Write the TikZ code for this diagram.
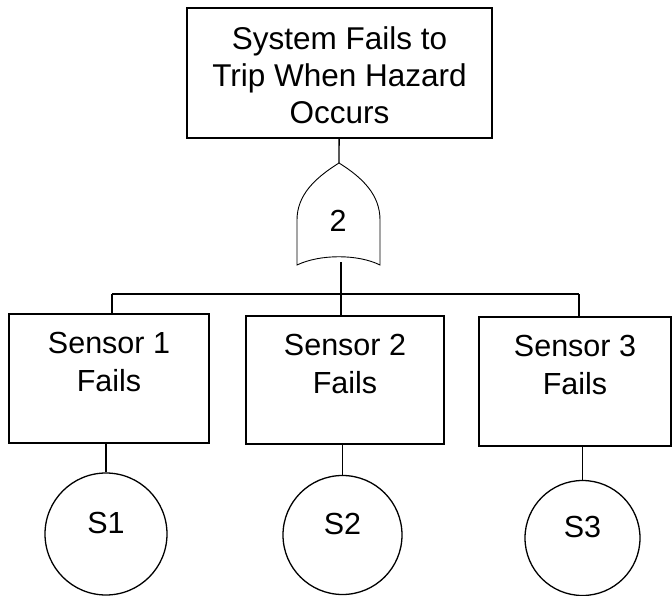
\documentclass[tikz,border=0pt]{standalone}
\usepackage{fontspec}
\setmainfont{Liberation Sans}
\usetikzlibrary{positioning}
\tikzset{
event/.style={
draw,
line width=1.3pt,
inner sep=0pt
},
eventtext/.style={
anchor=north,
yshift=-19pt,
inner sep=0pt,
align=center,
font=\fontsize{30.5}{38}\selectfont
},
basic/.style={
circle,
draw,
line width=1.3pt,
inner sep=0pt,
text depth=22pt,
font=\fontsize{30.5}{38}\selectfont
},
link/.style={
line width=1.3pt
}
}
\begin{document}
\begin{tikzpicture}[x=1pt,y=-1pt]
\useasboundingbox (0,0) rectangle (672,596);
% top event
\node[event,minimum width=305pt,minimum height=130pt,
label={[eventtext,font=\fontsize{31.5}{37}\selectfont]north:System Fails to\\Trip When Hazard\\Occurs}](top) at (339.5,73){};

% 2-out-of-3 gate
\coordinate (gin) at (339,163);
\coordinate (gout) at (341,262);
\draw[line width=0.9pt] (297,265) -- (297,220) .. controls (297,195) and (315,178) .. (gin)
.. controls (363,178) and (380,195) .. (380,220) -- (380,265)
.. controls (358,254) and (320,254) .. cycle;
\node[font=\fontsize{30.5}{38}\selectfont](vote) at (338,221){2};

% sensor events
\node[event,minimum width=200pt,minimum height=129pt,
label={[eventtext]north:Sensor 1\\Fails}](s1) at (109,378.5){};
\node[event,minimum width=198pt,minimum height=128pt,
label={[eventtext]north:Sensor 2\\Fails}](s2) at (345,380){};
\node[event,minimum width=192pt,minimum height=129pt,
label={[eventtext]north:Sensor 3\\Fails}](s3) at (575,381.5){};

% basic events
\node[basic,minimum size=122pt](b1) at (106,534){S1};
\node[basic,minimum size=119pt](b2) at (342.5,535){S2};
\node[basic,minimum size=115pt](b3) at (582.5,538){S3};

\coordinate (barL) at (112,294);
\coordinate (barR) at (579,294);
\draw[link](top)--(gin);
\draw[link](gout)--(gout |- barL);
\draw[link](barL)--(barR);
\draw[link](barL)--(barL |- s1.north);
\draw[link](gout |- barL)--(gout |- s2.north);
\draw[link](barR)--(barR |- s3.north);

\foreach \i in {1,2,3}
\draw[link](b\i |- s\i.south)--(b\i);
\end{tikzpicture}
\end{document}
